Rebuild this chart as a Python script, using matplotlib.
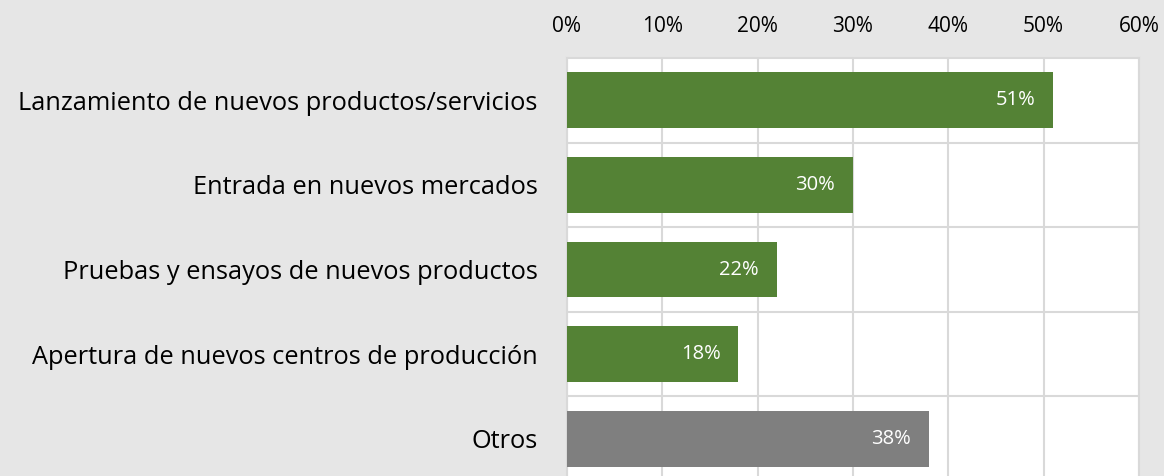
import matplotlib
matplotlib.use('Agg')
from matplotlib import pyplot as plt
from matplotlib.ticker import FuncFormatter

categories = ['Lanzamiento de nuevos productos/servicios',
              'Entrada en nuevos mercados',
              'Pruebas y ensayos de nuevos productos',
              'Apertura de nuevos centros de producción',
              'Otros']
values = [51, 30, 22, 18, 38]
bar_colors = ['#548235', '#548235', '#548235', '#548235', '#7F7F7F']

plt.rcParams['font.family'] = ['Open Sans', 'DejaVu Sans']

fig = plt.figure(figsize=(11.64, 4.76), dpi=100, facecolor='#E6E6E6')
ax = fig.add_axes([0.487, -0.0105, 0.4915, 0.8885])
ax.set_facecolor('white')

y = list(range(len(categories)))
bars = ax.barh(y, values, height=0.66, color=bar_colors, zorder=3)
for b, v in zip(bars, values):
    ax.annotate(f'{v}%', (b.get_width(), b.get_y() + b.get_height() / 2),
                xytext=(-13, 0), textcoords='offset points',
                ha='right', va='center', color='white', fontsize=14.5)

ax.set_xlim(0, 60)
ax.set_ylim(len(categories) - 0.5, -0.5)
ax.set_xticks(range(0, 61, 10))
ax.xaxis.set_major_formatter(FuncFormatter(lambda v, p: f'{v:.0f}%'))
ax.xaxis.tick_top()
ax.set_yticks(y)
ax.set_yticklabels(categories, fontsize=18.3)
ax.set_yticks([i + 0.5 for i in y[:-1]], minor=True)
ax.tick_params(axis='both', length=0, colors='black')
ax.tick_params(axis='x', pad=15, labelsize=15)
ax.tick_params(axis='y', pad=21)
ax.tick_params(which='minor', length=0)
ax.xaxis.grid(True, color='#D9D9D9', linewidth=1.5, zorder=0)
ax.yaxis.grid(True, which='minor', color='#D9D9D9', linewidth=1.5, zorder=0)
for s in ax.spines.values():
    s.set_color('#D9D9D9')
    s.set_linewidth(1.5)

fig.savefig('out.png', dpi=100, facecolor=fig.get_facecolor())
